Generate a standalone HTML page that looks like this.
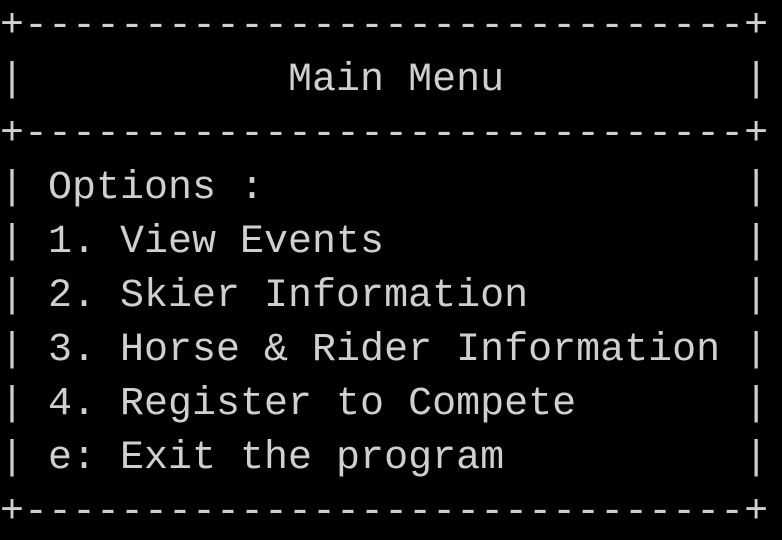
<!DOCTYPE html>
<html><head><meta charset="utf-8"><style>
html,body{margin:0;padding:0;background:#000;width:782px;height:536px;overflow:hidden}
pre{margin:0;position:absolute;left:0;top:0;font-family:"Liberation Mono",monospace;font-size:40px;line-height:54px;color:#cfcfcf;white-space:pre}
</style></head><body><pre>+------------------------------+
|           Main Menu          |
+------------------------------+
| Options :                    |
| 1. View Events               |
| 2. Skier Information         |
| 3. Horse &amp; Rider Information |
| 4. Register to Compete       |
| e: Exit the program          |
+------------------------------+</pre></body></html>
